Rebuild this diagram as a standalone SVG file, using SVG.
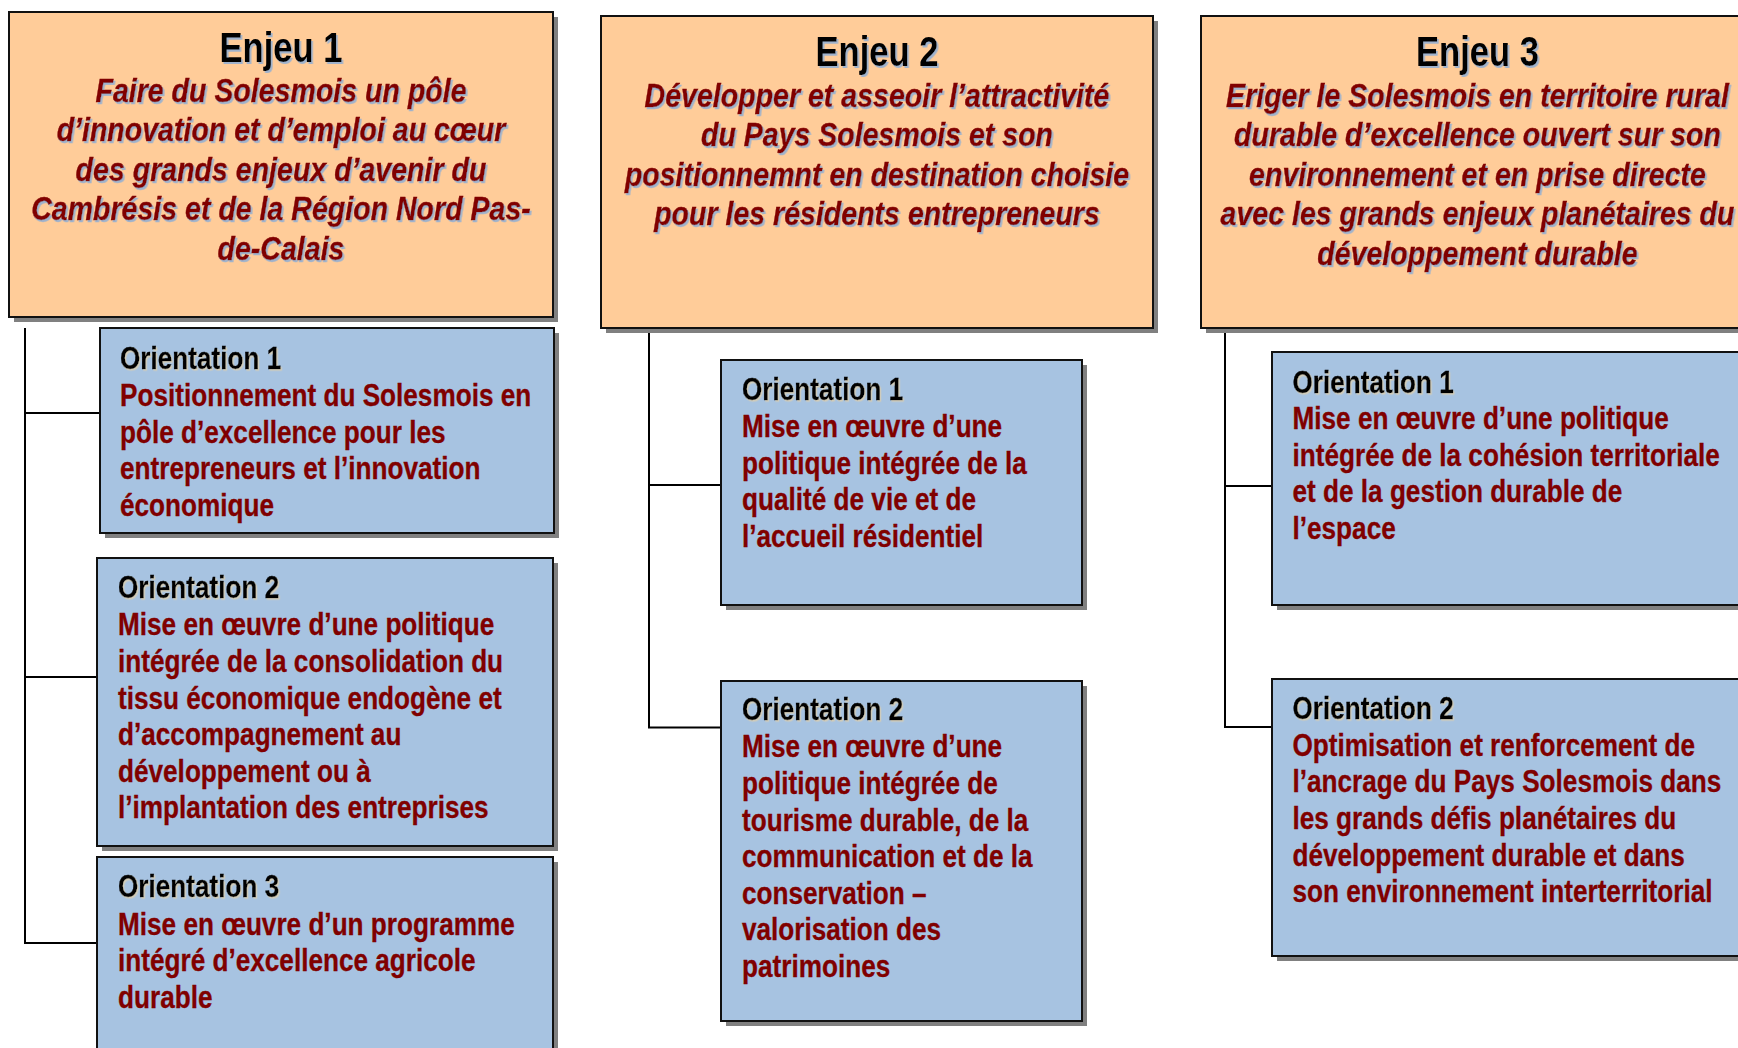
<svg xmlns="http://www.w3.org/2000/svg" width="1738" height="1048" viewBox="0 0 1738 1048">
<defs>
<style>
.enjeu{fill:#FFCC99;stroke:#111;stroke-width:2}
.orient{fill:#A7C3E1;stroke:#111;stroke-width:2}
.shadow{fill:#808080}
.conn{fill:none;stroke:#000;stroke-width:2}
.title{font-family:"Liberation Sans",Arial,sans-serif;font-weight:bold;font-size:42px;fill:#000;text-anchor:middle}
.sub{font-family:"Liberation Sans",Arial,sans-serif;font-weight:bold;font-style:italic;font-size:34px;fill:#800000;text-anchor:middle;stroke:#800000;stroke-width:0.4}
.otitle{font-family:"Liberation Sans",Arial,sans-serif;font-weight:bold;font-size:31px;fill:#000;stroke:#000;stroke-width:0.3}
.otext{font-family:"Liberation Sans",Arial,sans-serif;font-weight:bold;font-size:31px;fill:#800000;stroke:#800000;stroke-width:0.3}
</style>
<filter id="ts" x="-5%" y="-5%" width="110%" height="120%">
<feDropShadow dx="2" dy="2" stdDeviation="0.4" flood-color="#9FB2CC" flood-opacity="1"/>
</filter>
<filter id="ts2" x="-5%" y="-5%" width="110%" height="120%">
<feDropShadow dx="1.5" dy="1.5" stdDeviation="0.4" flood-color="#D2CCB8" flood-opacity="1"/>
</filter>
</defs>
<rect width="1738" height="1048" fill="#fff"/>

<g id="connectors">
<path class="conn" d="M25 328 V943 H97 M25 413 H100 M25 677 H97"/>
<path class="conn" d="M649 328 V727.5 H721 M649 485 H721"/>
<path class="conn" d="M1225 328 V727 H1272 M1225 486 H1272"/>
</g>

<g id="enjeu1">
<rect class="shadow" x="14" y="17" width="544" height="305"/>
<rect class="enjeu" x="9" y="12" width="544" height="305"/>
<text class="title" transform="matrix(0.825 0 0 1 281 0)" filter="url(#ts)"><tspan x="0" y="62">Enjeu 1</tspan></text>
<text class="sub" transform="matrix(0.84 0 0 1 281 0)" filter="url(#ts)"><tspan x="0" y="102">Faire du Solesmois un pôle</tspan><tspan x="0" y="141.5">d’innovation et d’emploi au cœur</tspan><tspan x="0" y="181">des grands enjeux d’avenir du</tspan><tspan x="0" y="220.5">Cambrésis et de la Région Nord Pas-</tspan><tspan x="0" y="260">de-Calais</tspan></text>
</g>

<g id="enjeu2">
<rect class="shadow" x="606" y="21" width="552" height="312"/>
<rect class="enjeu" x="601" y="16" width="552" height="312"/>
<text class="title" transform="matrix(0.825 0 0 1 877 0)" filter="url(#ts)"><tspan x="0" y="66.5">Enjeu 2</tspan></text>
<text class="sub" transform="matrix(0.84 0 0 1 877 0)" filter="url(#ts)"><tspan x="0" y="107">Développer et asseoir l’attractivité</tspan><tspan x="0" y="146.5">du Pays Solesmois et son</tspan><tspan x="0" y="186">positionnemnt en destination choisie</tspan><tspan x="0" y="225.5">pour les résidents entrepreneurs</tspan></text>
</g>

<g id="enjeu3">
<rect class="shadow" x="1206" y="21" width="560" height="312"/>
<rect class="enjeu" x="1201" y="16" width="560" height="312"/>
<text class="title" transform="matrix(0.825 0 0 1 1477.5 0)" filter="url(#ts)"><tspan x="0" y="66.5">Enjeu 3</tspan></text>
<text class="sub" transform="matrix(0.84 0 0 1 1477.5 0)" filter="url(#ts)"><tspan x="0" y="107">Eriger le Solesmois en territoire rural</tspan><tspan x="0" y="146.5">durable d’excellence ouvert sur son</tspan><tspan x="0" y="186">environnement et en prise directe</tspan><tspan x="0" y="225.5">avec les grands enjeux planétaires du</tspan><tspan x="0" y="265">développement durable</tspan></text>
</g>

<g id="e1-orientation1">
<rect class="shadow" x="105" y="333" width="454" height="205"/>
<rect class="orient" x="100" y="328" width="454" height="205"/>
<text class="otitle" transform="matrix(0.844 0 0 1 120 0)" filter="url(#ts2)"><tspan x="0" y="369.5">Orientation 1</tspan></text>
<text class="otext" transform="matrix(0.844 0 0 1 120 0)"><tspan x="0" y="406">Positionnement du Solesmois en</tspan><tspan x="0" y="442.6">pôle d’excellence pour les</tspan><tspan x="0" y="479.2">entrepreneurs et l’innovation</tspan><tspan x="0" y="515.8">économique</tspan></text>
</g>

<g id="e1-orientation2">
<rect class="shadow" x="102" y="563" width="456" height="288"/>
<rect class="orient" x="97" y="558" width="456" height="288"/>
<text class="otitle" transform="matrix(0.844 0 0 1 118 0)" filter="url(#ts2)"><tspan x="0" y="598.5">Orientation 2</tspan></text>
<text class="otext" transform="matrix(0.844 0 0 1 118 0)"><tspan x="0" y="635.4">Mise en œuvre d’une politique</tspan><tspan x="0" y="672">intégrée de la consolidation du</tspan><tspan x="0" y="708.6">tissu économique endogène et</tspan><tspan x="0" y="745.2">d’accompagnement au</tspan><tspan x="0" y="781.8">développement ou à</tspan><tspan x="0" y="818.4">l’implantation des entreprises</tspan></text>
</g>

<g id="e1-orientation3">
<rect class="shadow" x="102" y="862" width="456" height="200"/>
<rect class="orient" x="97" y="857" width="456" height="200"/>
<text class="otitle" transform="matrix(0.844 0 0 1 118 0)" filter="url(#ts2)"><tspan x="0" y="897">Orientation 3</tspan></text>
<text class="otext" transform="matrix(0.844 0 0 1 118 0)"><tspan x="0" y="934.7">Mise en œuvre d’un programme</tspan><tspan x="0" y="971.3">intégré d’excellence agricole</tspan><tspan x="0" y="1007.9">durable</tspan></text>
</g>

<g id="e2-orientation1">
<rect class="shadow" x="726" y="365" width="361" height="245"/>
<rect class="orient" x="721" y="360" width="361" height="245"/>
<text class="otitle" transform="matrix(0.844 0 0 1 742 0)" filter="url(#ts2)"><tspan x="0" y="400.5">Orientation 1</tspan></text>
<text class="otext" transform="matrix(0.844 0 0 1 742 0)"><tspan x="0" y="437">Mise en œuvre d’une</tspan><tspan x="0" y="473.6">politique intégrée de la</tspan><tspan x="0" y="510.2">qualité de vie et de</tspan><tspan x="0" y="546.8">l’accueil résidentiel</tspan></text>
</g>

<g id="e2-orientation2">
<rect class="shadow" x="726" y="686" width="361" height="340"/>
<rect class="orient" x="721" y="681" width="361" height="340"/>
<text class="otitle" transform="matrix(0.844 0 0 1 742 0)" filter="url(#ts2)"><tspan x="0" y="720.5">Orientation 2</tspan></text>
<text class="otext" transform="matrix(0.844 0 0 1 742 0)"><tspan x="0" y="757.4">Mise en œuvre d’une</tspan><tspan x="0" y="794">politique intégrée de</tspan><tspan x="0" y="830.6">tourisme durable, de la</tspan><tspan x="0" y="867.2">communication et de la</tspan><tspan x="0" y="903.8">conservation –</tspan><tspan x="0" y="940.4">valorisation des</tspan><tspan x="0" y="977">patrimoines</tspan></text>
</g>

<g id="e3-orientation1">
<rect class="shadow" x="1277" y="357" width="500" height="253"/>
<rect class="orient" x="1272" y="352" width="500" height="253"/>
<text class="otitle" transform="matrix(0.844 0 0 1 1292.5 0)" filter="url(#ts2)"><tspan x="0" y="392.7">Orientation 1</tspan></text>
<text class="otext" transform="matrix(0.844 0 0 1 1292.5 0)"><tspan x="0" y="429.3">Mise en œuvre d’une politique</tspan><tspan x="0" y="465.9">intégrée de la cohésion territoriale</tspan><tspan x="0" y="502.5">et de la gestion durable de</tspan><tspan x="0" y="539.1">l’espace</tspan></text>
</g>

<g id="e3-orientation2">
<rect class="shadow" x="1277" y="684" width="500" height="277"/>
<rect class="orient" x="1272" y="679" width="500" height="277"/>
<text class="otitle" transform="matrix(0.844 0 0 1 1292.5 0)" filter="url(#ts2)"><tspan x="0" y="719">Orientation 2</tspan></text>
<text class="otext" transform="matrix(0.844 0 0 1 1292.5 0)"><tspan x="0" y="755.7">Optimisation et renforcement de</tspan><tspan x="0" y="792.4">l’ancrage du Pays Solesmois dans</tspan><tspan x="0" y="829.1">les grands défis planétaires du</tspan><tspan x="0" y="865.8">développement durable et dans</tspan><tspan x="0" y="902.5">son environnement interterritorial</tspan></text>
</g>
</svg>
